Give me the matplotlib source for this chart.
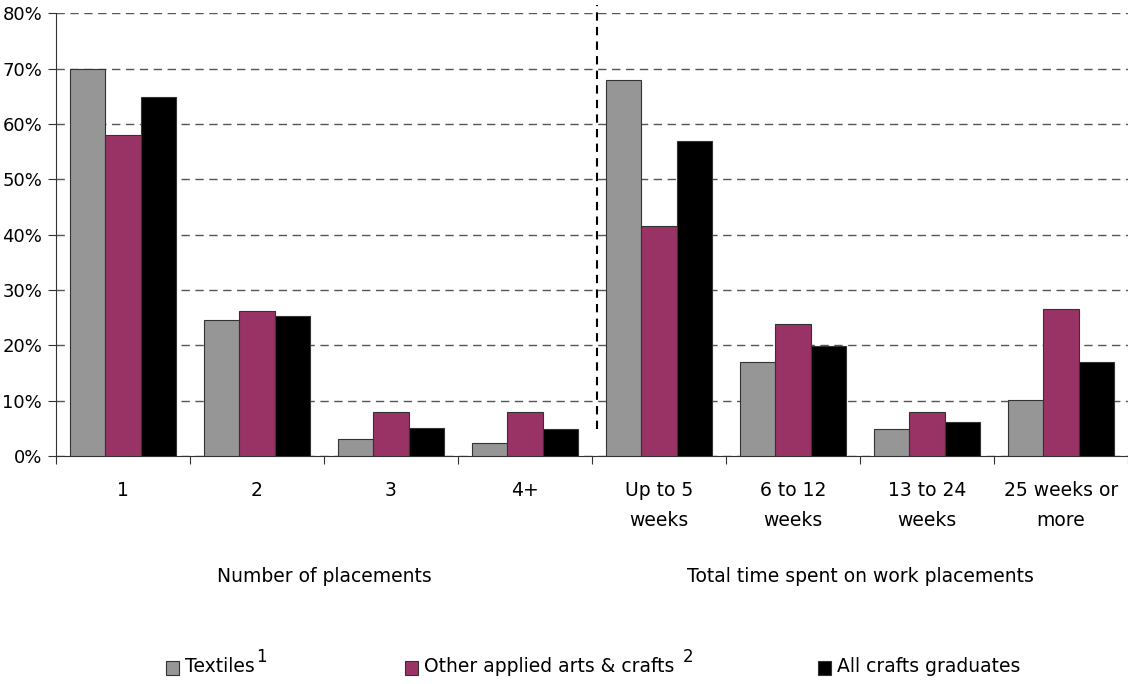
import matplotlib
matplotlib.use("Agg")
import matplotlib.pyplot as plt
from matplotlib.patches import Rectangle
from matplotlib.transforms import blended_transform_factory
import numpy as np

categories = ["1", "2", "3", "4+", "Up to 5\nweeks", "6 to 12\nweeks", "13 to 24\nweeks", "25 weeks or\nmore"]
series_names = ["Textiles", "Other applied arts & crafts", "All crafts graduates"]
superscripts = ["1", "2", ""]
textiles = [70.0, 24.5, 3.1, 2.4, 68.0, 17.0, 4.9, 10.1]
other = [58.0, 26.2, 7.9, 7.9, 41.6, 23.9, 7.9, 26.5]
all_crafts = [64.9, 25.3, 5.1, 4.8, 57.0, 19.9, 6.2, 16.9]
group_labels = ["Number of placements", "Total time spent on work placements"]
yticks = [0, 10, 20, 30, 40, 50, 60, 70, 80]

colors = ["#969696", "#993366", "#000000"]
plt.rcParams['font.family'] = ['DejaVu Sans']
FS = 13.5

W, H = 1128, 684
fig = plt.figure(figsize=(W/100, H/100), dpi=100)
ax = fig.add_axes([56/W, 1-456/H, 1-56/W, (456-13.3)/H])

x = np.arange(len(categories))
w = 0.264
for i, (vals, c) in enumerate(zip([textiles, other, all_crafts], colors)):
    ax.bar(x + (i-1)*w, vals, width=w, color=c, edgecolor="#333333", linewidth=0.8, zorder=3)

ax.set_xlim(-0.5, len(categories)-0.5)
ax.set_ylim(0, 80)
ax.set_yticks(yticks)
ax.set_yticklabels([f"{v}%" for v in yticks], fontsize=13)
ax.yaxis.grid(True, linestyle=(0, (6, 4)), color="#555555", linewidth=1.0, zorder=0)
ax.set_axisbelow(True)

ax.set_xticks(np.arange(len(categories)+1)-0.5)
ax.set_xticklabels([])
ax.tick_params(axis='x', which='major', length=6, color="#333333", direction='out')
ax.tick_params(axis='y', length=6, color="#333333", direction='out', pad=4)

# category labels (one text per line for precise placement)
tr = blended_transform_factory(ax.transData, fig.transFigure)
for xi, lab in zip(x, categories):
    for li, line in enumerate(lab.split("\n")):
        ax.text(xi, 1-(491+29*li)/H, line, ha="center", va="center", fontsize=FS, transform=tr)

for s in ["top", "right"]:
    ax.spines[s].set_visible(False)
ax.spines["left"].set_color("#333333")
ax.spines["bottom"].set_color("#333333")

# vertical dashed separator between groups
ax.plot([3.54, 3.54], [4.8, 81.5], linestyle=(0, (4, 3)), color="black", linewidth=1.5, clip_on=False, zorder=4)

# group labels
ax.text(1.5, 1-577/H, group_labels[0], ha="center", va="center", fontsize=FS, transform=tr)
ax.text(5.5, 1-577/H, group_labels[1], ha="center", va="center", fontsize=FS, transform=tr)

# legend
leg_x = [166, 405, 818]
sup_gap = [1, 8, 0]
for lx, name, sup, c, g in zip(leg_x, series_names, superscripts, colors, sup_gap):
    fig.patches.append(Rectangle((lx/W, 1-675/H), 13/W, 14/H, transform=fig.transFigure,
                                 facecolor=c, edgecolor="#333333", linewidth=0.8))
    t = fig.text((lx+19)/W, 1-667/H, name, ha="left", va="center", fontsize=FS)
    if sup:
        fig.canvas.draw()
        bb = t.get_window_extent()
        fig.text((bb.x1+g)/W, 1-657/H, sup, ha="left", va="center", fontsize=12)

fig.savefig("out.png", dpi=100)
